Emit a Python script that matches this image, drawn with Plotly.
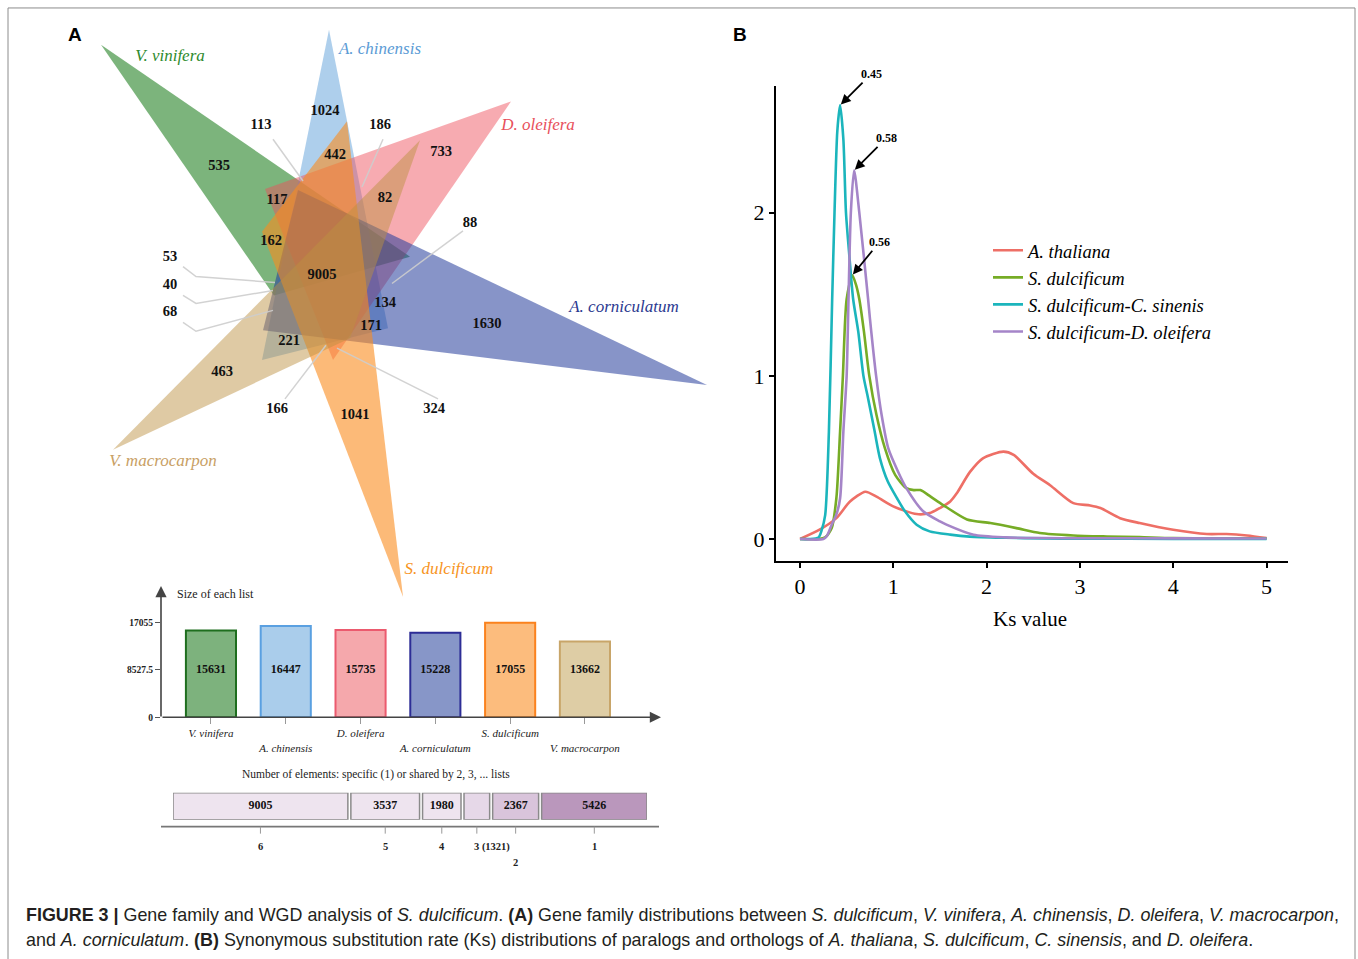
import plotly.graph_objects as go

W, H = 1358, 959
def fx(px): return px / W
def fy(py): return 1 - py / H

SERIF = "Liberation Serif"
SANS = "Liberation Sans"
DY = 4  # vertical nudge for the lower part of panel A

# ---------------- Panel A data ----------------
venn_sets = ["V. vinifera", "A. chinensis", "D. oleifera", "A. corniculatum", "S. dulcificum", "V. macrocarpon"]
venn_fill = ["rgba(30,125,30,0.58)", "rgba(85,155,215,0.48)", "rgba(238,80,92,0.48)",
             "rgba(37,60,155,0.55)", "rgba(250,140,30,0.6)", "rgba(189,145,65,0.48)"]
venn_label_color = ["#2E8B2E", "#5B9BD5", "#E8505B", "#2B3990", "#F7941D", "#C8A064"]
# triangle geometry (canvas pixels)
venn_triangles = {
    "V. vinifera": [(101, 45), (274, 297), (410, 258)],
    "A. chinensis": [(329, 30), (262, 362), (388, 330)],
    "D. oleifera": [(511, 102), (265, 190), (333, 362)],
    "A. corniculatum": [(707, 387), (298, 191), (263, 332)],
    "S. dulcificum": [(403, 600), (347, 122), (262, 233)],
    "V. macrocarpon": [(113, 452), (420, 141), (350, 340)],
}
venn_name_x = [170, 380, 538, 624, 449, 163]
venn_name_y = [57, 50, 126, 309, 573, 464]

venn_counts = [535, 1024, 113, 186, 442, 733, 117, 82, 88, 162, 9005, 53, 40, 68, 134, 171, 1630, 221, 463, 166, 1041, 324]
venn_count_x = [219, 325, 261, 380, 335, 441, 277, 385, 470, 271, 322, 170, 170, 170, 385, 371, 487, 289, 222, 277, 355, 434]
venn_count_y = [167, 112, 126, 126, 156, 153, 201, 199, 225, 243, 277, 259, 287, 314, 305, 328, 326, 343, 374, 412, 418, 412]
leader_lines = [
    [(273, 140), (303, 182)],
    [(383, 140), (362, 188)],
    [(463, 232), (392, 285)],
    [(183, 268), (196, 278), (275, 284)],
    [(183, 297), (196, 305), (273, 292)],
    [(183, 324), (196, 333), (273, 312)],
    [(285, 401), (326, 347)],
    [(438, 401), (337, 350)],
]

list_sizes = [15631, 16447, 15735, 15228, 17055, 13662]
bar_fill = ["#7DB27D", "#AACDEB", "#F5A8AC", "#8796C8", "#FCBC7D", "#DECDA5"]
bar_edge = ["#1E6E1E", "#5AA0E1", "#EB5A6E", "#2D2D96", "#FA821E", "#C8A569"]
size_ticks = [0, 8527.5, 17055]

share_levels = ["6", "5", "4", "3", "2", "1"]
share_counts = [9005, 3537, 1980, 1321, 2367, 5426]
share_fill = ["#EEE4EF", "#EEE4EF", "#EEE4EF", "#E6D8E8", "#D9C4DB", "#BA97BC"]
share_label_row = [0, 0, 0, 0, 1, 0]

# ---------------- Panel B data ----------------
ks_names = ["A. thaliana", "S. dulcificum", "S. dulcificum-C. sinenis", "S. dulcificum-D. oleifera"]
ks_colors = ["#EE6F66", "#76AC26", "#1BB5BC", "#A585C8"]
ath_x = [0, 0.21, 0.39, 0.536, 0.7, 0.82, 1.0, 1.25, 1.39, 1.5, 1.61, 1.68, 1.82, 1.96, 2.18, 2.29,
         2.5, 2.68, 2.93, 3.11, 3.22, 3.43, 3.64, 4.0, 4.36, 4.57, 4.79, 5.0]
ath_y = [0, 0.057, 0.128, 0.23, 0.29, 0.26, 0.2, 0.153, 0.159, 0.19, 0.23, 0.28, 0.41, 0.495, 0.536, 0.516,
         0.40, 0.33, 0.22, 0.206, 0.19, 0.128, 0.098, 0.057, 0.031, 0.031, 0.022, 0.006]
sdu_x = [0, 0.2, 0.27, 0.34, 0.39, 0.43, 0.46, 0.5, 0.56, 0.6, 0.636, 0.686, 0.743, 0.82, 0.91, 1.02,
         1.14, 1.22, 1.29, 1.4, 1.53, 1.79, 2.04, 2.32, 2.57, 2.93, 3.29, 3.64, 4.0, 5.0]
sdu_y = [0, 0, 0.01, 0.067, 0.25, 0.66, 1.0, 1.47, 1.617, 1.56, 1.47, 1.27, 1.0, 0.76, 0.557, 0.393,
         0.312, 0.30, 0.30, 0.26, 0.21, 0.12, 0.098, 0.067, 0.037, 0.022, 0.016, 0.012, 0.006, 0.004]
csi_x = [0, 0.1, 0.2, 0.23, 0.27, 0.31, 0.345, 0.37, 0.40, 0.43, 0.465, 0.493, 0.53, 0.57, 0.625, 0.68,
         0.73, 0.80, 0.857, 0.94, 1.04, 1.125, 1.25, 1.39, 1.61, 1.82, 2.2, 2.6, 3.0, 4.0, 5.0]
csi_y = [0, 0, 0.01, 0.05, 0.147, 0.66, 1.47, 2.0, 2.5, 2.66, 2.45, 2.0, 1.73, 1.47, 1.27, 1.0,
         0.862, 0.66, 0.495, 0.354, 0.25, 0.17, 0.088, 0.047, 0.027, 0.015, 0.008, 0.004, 0.002, 0.001, 0.0]
dol_x = [0, 0.25, 0.29, 0.34, 0.39, 0.43, 0.465, 0.5, 0.52, 0.545, 0.58, 0.636, 0.73, 0.75, 0.816, 0.875,
         0.946, 1.05, 1.14, 1.32, 1.5, 1.57, 1.86, 2.21, 2.6, 3.0, 4.0, 5.0]
dol_y = [0, 0, 0.02, 0.088, 0.15, 0.25, 0.66, 1.0, 1.47, 2.0, 2.26, 2.0, 1.47, 1.35, 1.0, 0.76,
         0.557, 0.414, 0.312, 0.17, 0.108, 0.088, 0.026, 0.01, 0.006, 0.005, 0.004, 0.003]
ks_x = [ath_x, sdu_x, csi_x, dol_x]
ks_y = [ath_y, sdu_y, csi_y, dol_y]
peak_labels = {2: "0.45", 3: "0.58", 1: "0.56"}
peak_offsets = {2: (31, -31), 3: (32, -32), 1: (27, -33)}

fig = go.Figure()

# ---- Venn triangles on a pixel canvas ----
for name, fill in zip(venn_sets, venn_fill):
    pts = venn_triangles[name]
    xs = [p[0] for p in pts] + [pts[0][0]]
    ys = [p[1] for p in pts] + [pts[0][1]]
    fig.add_trace(go.Scatter(x=xs, y=ys, fill="toself", fillcolor=fill, mode="lines",
                             line=dict(width=0), hoverinfo="skip", showlegend=False,
                             xaxis="x", yaxis="y"))
for ln in leader_lines:
    fig.add_trace(go.Scatter(x=[p[0] for p in ln], y=[p[1] for p in ln], mode="lines",
                             line=dict(color="rgba(205,205,205,0.9)", width=1.5),
                             hoverinfo="skip", showlegend=False, xaxis="x", yaxis="y"))
fig.add_trace(go.Scatter(x=venn_count_x, y=venn_count_y, mode="text",
                         text=["<b>%d</b>" % v for v in venn_counts],
                         textfont=dict(family=SERIF, size=14.5, color="#111"),
                         hoverinfo="skip", showlegend=False, xaxis="x", yaxis="y"))
fig.add_trace(go.Scatter(x=venn_name_x, y=venn_name_y, mode="text",
                         text=["<i>%s</i>" % n for n in venn_sets],
                         textfont=dict(family=SERIF, size=17, color=venn_label_color),
                         hoverinfo="skip", showlegend=False, xaxis="x", yaxis="y"))

# ---- size of each list bars ----
idx = list(range(len(list_sizes)))
fig.add_trace(go.Bar(x=idx, y=list_sizes, width=0.67, marker=dict(color=bar_fill, line=dict(color=bar_edge, width=2)),
                     hoverinfo="skip", showlegend=False, xaxis="x2", yaxis="y2"))
fig.add_trace(go.Scatter(x=idx, y=[max(list_sizes) / 2] * len(idx), mode="text",
                         text=["<b>%d</b>" % v for v in list_sizes],
                         textfont=dict(family=SERIF, size=12, color="#111"),
                         hoverinfo="skip", showlegend=False, xaxis="x2", yaxis="y2"))

# ---- shared elements bar ----
total = sum(share_counts)
gap = total * 3.0 / 459.0
bases, centers = [], []
pos = 0
for c in share_counts:
    bases.append(pos)
    centers.append(pos + c / 2)
    pos += c + gap
share_range = pos - gap
fig.add_trace(go.Bar(y=[0] * len(share_counts), x=share_counts, base=bases, orientation="h", width=1,
                     marker=dict(color=share_fill, line=dict(color="#8A8A8A", width=1.5)),
                     hoverinfo="skip", showlegend=False, xaxis="x3", yaxis="y3"))
inside_txt = ["<b>%d</b>" % c if c >= 1500 else "" for c in share_counts]
fig.add_trace(go.Scatter(x=centers, y=[0] * len(centers), mode="text", text=inside_txt,
                         textfont=dict(family=SERIF, size=12, color="#111"),
                         hoverinfo="skip", showlegend=False, xaxis="x3", yaxis="y3"))

# ---- Ks density curves ----
for i in range(4):
    fig.add_trace(go.Scatter(x=ks_x[i], y=ks_y[i], mode="lines", name="<i>%s</i>" % ks_names[i],
                             line=dict(color=ks_colors[i], width=2.6, shape="spline", smoothing=0.7),
                             hoverinfo="skip", xaxis="x4", yaxis="y4"))

annotations = []
shapes = []

def note(text, px, py, size, family=SERIF, color="#222", xanchor="center"):
    annotations.append(dict(text=text, x=fx(px), y=fy(py), xref="paper", yref="paper", showarrow=False,
                            xanchor=xanchor, yanchor="middle", font=dict(family=family, size=size, color=color)))

# frame
shapes.append(dict(type="rect", xref="paper", yref="paper", x0=fx(8), x1=fx(1355), y0=fy(975), y1=fy(8),
                   line=dict(color="#8c8c8c", width=1)))

# panel letters
note("<b>A</b>", 75, 35, 19, SANS, "black")
note("<b>B</b>", 740, 35, 19, SANS, "black")

# bar chart axes with arrows
annotations.append(dict(x=fx(161), y=fy(585 + DY), xref="paper", yref="paper", ax=0, ay=132, axref="pixel",
                        ayref="pixel", text="", showarrow=True, arrowhead=2, arrowsize=1.4, arrowwidth=1.6,
                        arrowcolor="#444"))
annotations.append(dict(x=fx(661), y=fy(717 + DY), xref="paper", yref="paper", ax=-500, ay=0, axref="pixel",
                        ayref="pixel", text="", showarrow=True, arrowhead=2, arrowsize=1.4, arrowwidth=1.6,
                        arrowcolor="#444"))
note("Size of each list", 175, 593 + DY, 12, xanchor="left")
note("Number of elements: specific (1) or shared by 2, 3, ... lists", 376, 775 + DY, 11.5)

# shared bar axis + ticks + labels
shapes.append(dict(type="line", xref="paper", yref="paper", x0=fx(161), x1=fx(659), y0=fy(827 + DY),
                   y1=fy(827 + DY), line=dict(color="#777", width=1.6)))
for i, c in enumerate(centers):
    shapes.append(dict(type="line", xref="x3", yref="paper", x0=c, x1=c, y0=fy(827 + DY), y1=fy(834 + DY),
                       line=dict(color="#999", width=1)))
    lab = share_levels[i] if inside_txt[i] else "%s (%d)" % (share_levels[i], share_counts[i])
    row = share_label_row[i]
    annotations.append(dict(text="<b>%s</b>" % lab, x=c, y=fy(847 + DY + 16 * row), xref="x3", yref="paper",
                            xanchor="center" if inside_txt[i] else "left", yanchor="middle",
                            xshift=0 if inside_txt[i] else -5,
                            showarrow=False, font=dict(family=SERIF, size=10.5, color="#222")))

# peak arrows
for i, lab in peak_labels.items():
    yy = ks_y[i]
    k = yy.index(max(yy))
    ax, ay = peak_offsets[i]
    annotations.append(dict(x=ks_x[i][k], y=yy[k], xref="x4", yref="y4", ax=ax, ay=ay,
                            text="<b>%s</b>" % lab, showarrow=True, arrowhead=2, arrowsize=1.1,
                            arrowwidth=1.8, arrowcolor="black", standoff=1,
                            font=dict(family=SERIF, size=12, color="black")))
note("Ks value", 1030, 622, 21, color="black")

# caption
cap1 = ("<b>FIGURE 3 |</b> Gene family and WGD analysis of <i>S. dulcificum</i>. <b>(A)</b> Gene family distributions "
        "between <i>S. dulcificum</i>, <i>V. vinifera</i>, <i>A. chinensis</i>, <i>D. oleifera</i>, <i>V. macrocarpon</i>,")
cap2 = ("and <i>A. corniculatum</i>. <b>(B)</b> Synonymous substitution rate (Ks) distributions of paralogs and orthologs "
        "of <i>A. thaliana</i>, <i>S. dulcificum</i>, <i>C. sinensis</i>, and <i>D. oleifera</i>.")
note(cap1, 24, 920, 17.9, SANS, "#231f20", "left")
note(cap2, 24, 945, 17.9, SANS, "#231f20", "left")

hidden = dict(visible=False, showgrid=False, zeroline=False, fixedrange=True)
fig.update_layout(
    width=W, height=H, margin=dict(l=0, r=0, t=0, b=0),
    paper_bgcolor="white", plot_bgcolor="rgba(0,0,0,0)",
    xaxis=dict(domain=[0, 1], range=[0, W], **hidden),
    yaxis=dict(domain=[0, 1], range=[H, 0], **hidden),
    xaxis2=dict(domain=[fx(161), fx(650)], range=[-0.668, 5.87], anchor="y2", showgrid=False, zeroline=False,
                tickvals=idx,
                ticktext=[("<i>%s</i>" if i % 2 == 0 else "<br><i>%s</i>") % n for i, n in enumerate(venn_sets)],
                ticks="outside", ticklen=6, tickcolor="#999", showline=False,
                tickfont=dict(family=SERIF, size=11, color="#222")),
    yaxis2=dict(domain=[fy(717 + DY), fy(588 + DY)], range=[0, 17055 * 129 / 95], anchor="x2", showgrid=False,
                zeroline=False, tickvals=size_ticks, ticktext=["<b>%g</b>" % t for t in size_ticks],
                ticks="outside", ticklen=5, tickcolor="#555", showline=False,
                tickfont=dict(family=SERIF, size=9.5, color="#222")),
    xaxis3=dict(domain=[fx(173), fx(647)], range=[0, share_range], anchor="y3", **hidden),
    yaxis3=dict(domain=[fy(820 + DY), fy(793 + DY)], range=[-0.5, 0.5], anchor="x3", **hidden),
    xaxis4=dict(domain=[fx(776), fx(1288)], range=[-0.257, 5.23], anchor="y4", showgrid=False, zeroline=False,
                showline=True, linecolor="black", linewidth=2, ticks="outside", ticklen=5, tickwidth=1.5,
                tickcolor="black", tickvals=[0, 1, 2, 3, 4, 5],
                tickfont=dict(family=SERIF, size=22, color="black")),
    yaxis4=dict(domain=[fy(564), fy(86)], range=[-0.135, 2.78], anchor="x4", showgrid=False, zeroline=False,
                showline=True, linecolor="black", linewidth=2, ticks="outside", ticklen=5, tickwidth=1.5,
                tickcolor="black", tickvals=[0, 1, 2],
                tickfont=dict(family=SERIF, size=22, color="black")),
    showlegend=True,
    legend=dict(x=fx(988), y=fy(233), xanchor="left", yanchor="top", bgcolor="rgba(0,0,0,0)",
                font=dict(family=SERIF, size=18.5, color="black"), itemwidth=30, tracegroupgap=0),
    annotations=annotations, shapes=shapes,
)

fig.write_html("out.html", config={"displayModeBar": False},
               post_script="document.body.style.margin='0px';document.body.style.overflow='hidden';")
